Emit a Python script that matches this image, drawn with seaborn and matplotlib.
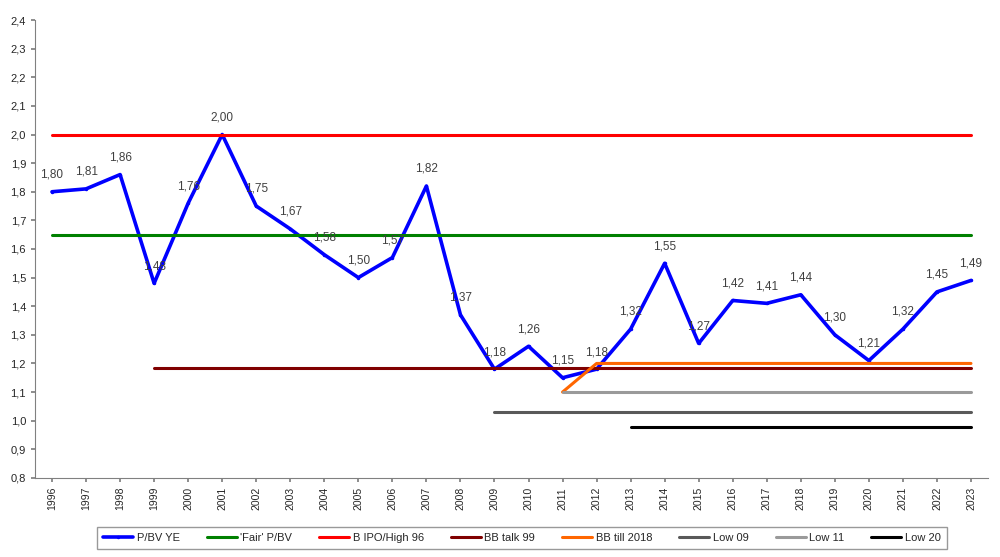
"""P/BV year-end history with reference levels"""

import numpy as np
import pandas as pd
import seaborn as sns
import matplotlib.pyplot as plt
from matplotlib.ticker import FuncFormatter, MultipleLocator

years = list(range(1996, 2024))
pbv = [1.80, 1.81, 1.86, 1.48, 1.76, 2.00, 1.75, 1.67, 1.58, 1.50,
       1.57, 1.82, 1.37, 1.18, 1.26, 1.15, 1.18, 1.32, 1.55, 1.27,
       1.42, 1.41, 1.44, 1.30, 1.21, 1.32, 1.45, 1.49]

fair_level = 1.65
ipo_level = 2.00
bb_talk_level = 1.185
bb_till_years = [2011, 2012, 2023]
bb_till_values = [1.10, 1.20, 1.20]
low09_level, low09_start = 1.03, 2009
low11_level, low11_start = 1.10, 2011
low20_level, low20_start = 0.978, 2013

sns.set_theme(style="white")
plt.rcParams['font.family'] = ['Liberation Sans', 'DejaVu Sans']

fig = plt.figure(figsize=(10, 5.57), dpi=100)
ax = fig.add_axes([0.035, 0.142, 0.953, 0.822])


def hline(label, start, level, color, lw=2.2):
    xs = [start, years[-1]]
    df = pd.DataFrame({'year': xs, 'value': [level, level]})
    sns.lineplot(data=df, x='year', y='value', ax=ax, color=color, lw=lw, label=label)


sns.lineplot(x=years, y=pbv, ax=ax, color='#0000ff', lw=2.6, label='P/BV YE',
             marker='o', markersize=2.5, markeredgewidth=0)
hline("'Fair' P/BV", years[0], fair_level, '#008000')
hline('B IPO/High 96', years[0], ipo_level, '#ff0000')
hline('BB talk 99', 1999, bb_talk_level, '#800000')
sns.lineplot(x=bb_till_years, y=bb_till_values, ax=ax, color='#ff6600', lw=2.2,
             label='BB till 2018')
hline('Low 09', low09_start, low09_level, '#595959')
hline('Low 11', low11_start, low11_level, '#9a9a9a')
hline('Low 20', low20_start, low20_level, '#000000')

for yr, val in zip(years, pbv):
    ax.annotate(f"{val:.2f}".replace('.', ','), (yr, val), xytext=(0, 8),
                textcoords='offset points', ha='center', va='bottom',
                fontsize=8.5, color='#404040')

ax.set_xlim(1995.5, 2023.5)
ax.set_ylim(0.8, 2.4)
ax.yaxis.set_major_locator(MultipleLocator(0.1))
ax.yaxis.set_major_formatter(FuncFormatter(lambda v, p: f"{v:.1f}".replace('.', ',')))
ax.set_xticks(years)
ax.set_xticklabels([str(y) for y in years], rotation=90, fontsize=7.5)
ax.tick_params(axis='y', labelsize=8, length=3, color='#808080', left=True)
ax.tick_params(axis='x', length=3, color='#808080', bottom=True)
ax.set_xlabel('')
ax.set_ylabel('')
for side in ['top', 'right']:
    ax.spines[side].set_visible(False)
for side in ['left', 'bottom']:
    ax.spines[side].set_color('#808080')
    ax.spines[side].set_linewidth(0.8)

ax.legend(loc='center', bbox_to_anchor=(0.522, 0.034), bbox_transform=fig.transFigure,
          ncol=8, fontsize=8, frameon=True, fancybox=False, edgecolor='#808080',
          handlelength=2.7, handletextpad=0.3, columnspacing=2.45,
          borderpad=0.55)

plt.savefig('out.png', dpi=100)
